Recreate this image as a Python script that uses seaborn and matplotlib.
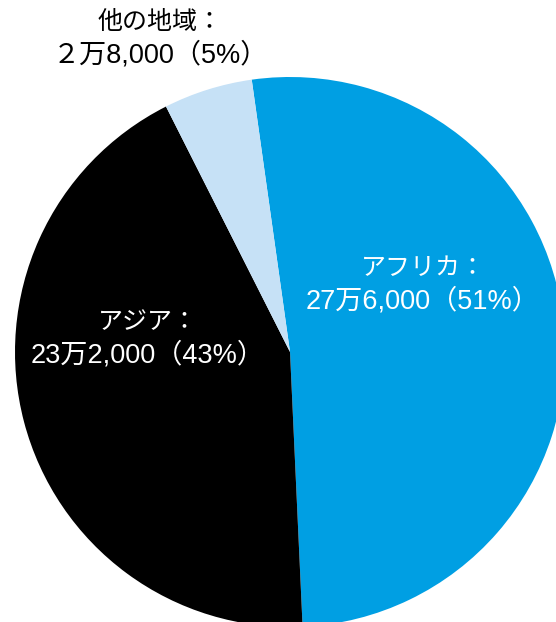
import matplotlib
matplotlib.use("Agg")
import matplotlib.pyplot as plt
import seaborn as sns

# Regional totals
regions = ["アフリカ", "アジア", "他の地域"]
values = [276000, 232000, 28000]
shares = [51, 43, 5]
value_labels = ["27万6,000", "23万2,000", "２万8,000"]
colors = ["#009FE3", "#000000", "#C6E1F6"]

sns.set_theme(style="white")
plt.rcParams["font.family"] = ["Liberation Sans", "Noto Sans CJK JP", "DejaVu Sans"]

W, H = 556, 622
fig = plt.figure(figsize=(W / 100, H / 100), dpi=100)
ax = fig.add_axes([0, 0, 1, 1])

cx, cy, r = 290, 352, 275

# pie drawn in a y-down frame: mirror the direction so wedges run clockwise on screen
ax.pie(values, colors=sns.color_palette(colors), startangle=-98, counterclock=True,
       center=(cx, cy), radius=r, frame=True,
       wedgeprops=dict(linewidth=0, antialiased=True))
ax.set_xlim(0, W)
ax.set_ylim(H, 0)
ax.axis("off")

label_pos = [(423, 268, "white"), (148, 322, "white"), (160, 22, "black")]
for name, vl, sh, (x, y, c) in zip(regions, value_labels, shares, label_pos):
    ax.text(x, y, f"{name}：", ha="center", va="center", fontsize=18, color=c)
    ax.text(x, y + 33, f"{vl}（{sh}%）", ha="center", va="center", fontsize=19.5, color=c)

fig.savefig("out.png", dpi=100)
